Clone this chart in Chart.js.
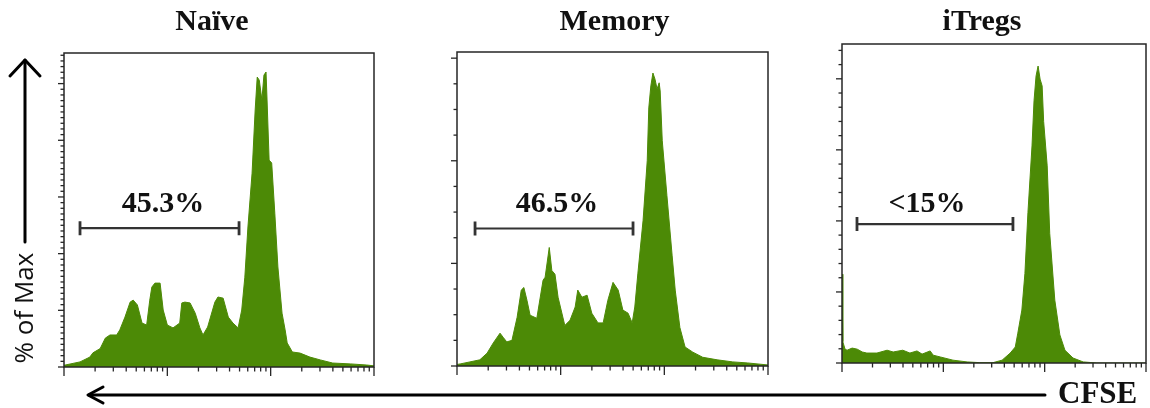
<!DOCTYPE html>
<html>
<head>
<meta charset="utf-8">
<script src="https://cdn.jsdelivr.net/npm/chart.js@4.4.1/dist/chart.umd.min.js"></script>
<style>
  html, body { margin: 0; padding: 0; background: #fff; }
  #wrap { position: relative; width: 1150px; height: 408px; overflow: hidden; }
  #wrap canvas { position: absolute; top: 0; }
  #axes { position: absolute; left: 0; top: 0; }
</style>
</head>
<body>
<div id="wrap">
  <svg id="axes" width="1150" height="408">
    <g stroke="#000" stroke-width="3" fill="none" stroke-linecap="round" stroke-linejoin="round">
      <path d="M25 242 V60"/>
      <path d="M10 76 L25 60 L40 76"/>
      <path d="M1045 395 H89"/>
      <path d="M103 387 L88 395 L103 403"/>
    </g>
    <text transform="translate(33,308) rotate(-90)" text-anchor="middle"
          font-family="'Open Sans', sans-serif" font-size="26" fill="#111">% of Max</text>
    <text x="1058" y="403" font-family="'Times New Roman', 'Liberation Serif', serif"
          font-weight="bold" font-size="31" fill="#111">CFSE</text>
  </svg>
</div>
<script>
// histograms: x = log10 CFSE intensity, y = events
var panelTitles = ["Naïve", "Memory", "iTregs"];
var gateLabels = ["45.3%", "46.5%", "<15%"];

var naiveCfse = [2.00, 2.155, 2.25, 2.28, 2.35, 2.40, 2.445, 2.51, 2.54, 2.59,
    2.64, 2.67, 2.71, 2.755, 2.80, 2.83, 2.85, 2.88, 2.93, 2.96,
    3.00, 3.055, 3.12, 3.14, 3.17, 3.22, 3.27, 3.315, 3.345, 3.39,
    3.46, 3.49, 3.54, 3.59, 3.635, 3.685, 3.72, 3.75, 3.78, 3.82,
    3.85, 3.87, 3.89, 3.915, 3.935, 3.955, 3.965, 3.985, 4.01, 4.04,
    4.07, 4.11, 4.14, 4.16, 4.21, 4.285, 4.38, 4.48, 4.60, 4.77,
    4.93, 5.00];
var naiveCount = [0.6, 1.8, 3.5, 5.0, 6.5, 10.2, 11.3, 11.3, 13.1, 17.6,
    22.9, 23.6, 21.9, 15.5, 14.8, 23.6, 28.2, 29.6, 29.6, 20.1,
    14.8, 13.8, 15.5, 22.6, 22.9, 22.6, 19.0, 13.8, 11.3, 14.1,
    22.9, 24.7, 24.3, 17.6, 15.5, 13.8, 20.1, 31.7, 49.4, 68.4,
    90.7, 102.3, 101.2, 94.2, 103.0, 104.1, 94.2, 73.0, 72.0, 54.3,
    35.3, 19.0, 13.1, 8.5, 5.3, 4.9, 3.5, 2.5, 1.4, 1.1,
    0.7, 0.4];

var memoryCfse = [2.00, 2.03, 2.125, 2.22, 2.29, 2.35, 2.415, 2.445, 2.48, 2.53,
    2.58, 2.62, 2.645, 2.675, 2.705, 2.77, 2.83, 2.85, 2.89, 2.915,
    2.945, 2.975, 3.04, 3.09, 3.14, 3.165, 3.205, 3.255, 3.30, 3.36,
    3.41, 3.455, 3.505, 3.555, 3.60, 3.65, 3.69, 3.715, 3.745, 3.795,
    3.835, 3.85, 3.87, 3.89, 3.91, 3.93, 3.95, 3.96, 3.98, 4.025,
    4.075, 4.105, 4.15, 4.20, 4.275, 4.37, 4.51, 4.66, 4.80, 5.00];
var memoryCount = [0.3, 0.4, 0.8, 1.2, 2.5, 4.5, 6.4, 5.6, 4.7, 5.0,
    9.5, 14.8, 15.3, 12.8, 9.9, 9.3, 16.7, 17.3, 23.1, 18.6,
    17.9, 13.4, 7.9, 8.9, 11.5, 14.8, 13.4, 13.8, 10.3, 8.4,
    8.4, 12.8, 16.3, 14.8, 10.9, 10.3, 8.4, 11.5, 18.1, 28.4,
    40.0, 50.3, 54.6, 57.1, 55.9, 54.0, 55.2, 53.6, 43.9, 33.2,
    21.6, 14.8, 7.5, 3.7, 2.7, 1.7, 1.2, 0.8, 0.6, 0.2];

var itregCfse = [2.00, 2.008, 2.03, 2.05, 2.10, 2.15, 2.20, 2.245, 2.345, 2.445,
    2.505, 2.60, 2.67, 2.74, 2.79, 2.87, 2.90, 2.97, 3.095, 3.235,
    3.36, 3.49, 3.58, 3.66, 3.71, 3.735, 3.775, 3.805, 3.835, 3.875,
    3.895, 3.915, 3.935, 3.955, 3.975, 3.99, 4.025, 4.05, 4.10, 4.15,
    4.20, 4.28, 4.38, 4.515, 5.00];
var itregCount = [25.0, 6.0, 3.9, 3.6, 4.2, 3.9, 3.1, 2.8, 2.8, 3.6,
    3.1, 3.6, 2.8, 3.4, 2.5, 3.4, 2.2, 1.7, 0.8, 0.3,
    0.1, 0.1, 0.8, 2.8, 4.5, 8.4, 14.9, 25.2, 42.4, 61.1,
    73.8, 80.8, 83.6, 79.9, 78.0, 68.0, 55.5, 36.5, 17.7, 7.9,
    3.6, 1.4, 0.3, 0, 0];

// gated (divided) region and where its % label sits
var gateFrom = [2.155, 2.174, 2.148];
var gateTo = [3.694, 3.698, 3.687];
var gateLevel = [49.0, 26.8, 39.1];
var gateTextAt = [2.958, 2.965, 2.839];

// axis ranges
var decades = [2, 3, 4, 5];
var yTop = [110.8, 61.2, 89.8];
var yMajor = [20, 20, 20];
var yMinor = [2, 5, 4];

var green = "rgb(76,138,6)";
var serif = "'Times New Roman', 'Liberation Serif', serif";

var frames = [
    { left: 64, top: 53, right: 374, bottom: 367, titleShift: -7, labelGap: 16 },
    { left: 457, top: 52, right: 768, bottom: 366, titleShift: 2, labelGap: 16 },
    { left: 842, top: 44, right: 1146, bottom: 363, titleShift: -12, labelGap: 12 }
];

// frame, log ticks, gate bar and texts
var flowFrame = {
    id: "flowFrame",
    afterDatasetsDraw: function(chart, args, o) {
        var ctx = chart.ctx, a = chart.chartArea;
        var x = chart.scales.x, y = chart.scales.y;
        ctx.save();
        ctx.strokeStyle = "#262626";
        ctx.lineWidth = 1.5;
        ctx.strokeRect(a.left, a.top, a.right - a.left, a.bottom - a.top);

        // y ticks, outward
        ctx.lineWidth = 1.3;
        var n = Math.floor(o.yTop / o.minor + 1e-6);
        for (var i = 0; i <= n; i++) {
            var py = y.getPixelForValue(i * o.minor);
            var big = (i * o.minor) % o.major === 0;
            ctx.beginPath();
            ctx.moveTo(a.left, py);
            ctx.lineTo(a.left - (big ? 6 : 3.5), py);
            ctx.stroke();
        }

        // x ticks, log decades
        decades.forEach(function(d, k) {
            var px = x.getPixelForValue(d);
            ctx.beginPath();
            ctx.moveTo(px, a.bottom);
            ctx.lineTo(px, a.bottom + 9);
            ctx.stroke();
            if (k == decades.length - 1) return;
            for (var m = 2; m <= 9; m++) {
                var mx = x.getPixelForValue(d + Math.log10(m));
                ctx.beginPath();
                ctx.moveTo(mx, a.bottom);
                ctx.lineTo(mx, a.bottom + 4.5);
                ctx.stroke();
            }
        });

        // gate bar
        var gy = y.getPixelForValue(o.gate[2]);
        var g1 = x.getPixelForValue(o.gate[0]), g2 = x.getPixelForValue(o.gate[1]);
        ctx.strokeStyle = "#333";
        ctx.lineWidth = 2.2;
        ctx.beginPath();
        ctx.moveTo(g1, gy); ctx.lineTo(g2, gy);
        ctx.stroke();
        ctx.lineWidth = 2.8;
        ctx.beginPath();
        ctx.moveTo(g1, gy - 7); ctx.lineTo(g1, gy + 7);
        ctx.moveTo(g2, gy - 7); ctx.lineTo(g2, gy + 7);
        ctx.stroke();

        ctx.fillStyle = "#111";
        ctx.textAlign = "center";
        ctx.textBaseline = "alphabetic";
        ctx.font = "bold 30px " + serif;
        ctx.fillText(o.label, x.getPixelForValue(o.gate[3]), gy - o.labelGap);
        ctx.fillText(o.title, (a.left + a.right) / 2 + o.titleShift, 30);
        ctx.restore();
    }
};

var series = [[naiveCfse, naiveCount], [memoryCfse, memoryCount], [itregCfse, itregCount]];
var wrap = document.getElementById("wrap");

frames.forEach(function(f, i) {
    var cLeft = f.left - 30;
    var cRight = Math.min(1150, f.right + 14);
    var canvas = document.createElement("canvas");
    canvas.width = cRight - cLeft;
    canvas.height = 408;
    canvas.style.left = cLeft + "px";
    wrap.insertBefore(canvas, wrap.firstChild);

    var pts = series[i][0].map(function(v, j) {
        return { x: v, y: series[i][1][j] };
    });

    new Chart(canvas, {
        type: "line",
        data: {
            datasets: [{
                data: pts,
                fill: "origin",
                backgroundColor: green,
                borderColor: green,
                borderWidth: 1,
                pointRadius: 0,
                tension: 0
            }]
        },
        options: {
            responsive: false,
            animation: false,
            events: [],
            layout: {
                padding: { left: 30, right: cRight - f.right, top: f.top, bottom: 408 - f.bottom }
            },
            plugins: {
                legend: { display: false },
                tooltip: { enabled: false },
                flowFrame: {
                    title: panelTitles[i],
                    label: gateLabels[i],
                    gate: [gateFrom[i], gateTo[i], gateLevel[i], gateTextAt[i]],
                    yTop: yTop[i],
                    major: yMajor[i],
                    minor: yMinor[i],
                    titleShift: f.titleShift,
                    labelGap: f.labelGap
                }
            },
            scales: {
                x: { type: "linear", min: 2, max: 5, display: false },
                y: { min: 0, max: yTop[i], display: false }
            }
        },
        plugins: [flowFrame]
    });
});
</script>
</body>
</html>
